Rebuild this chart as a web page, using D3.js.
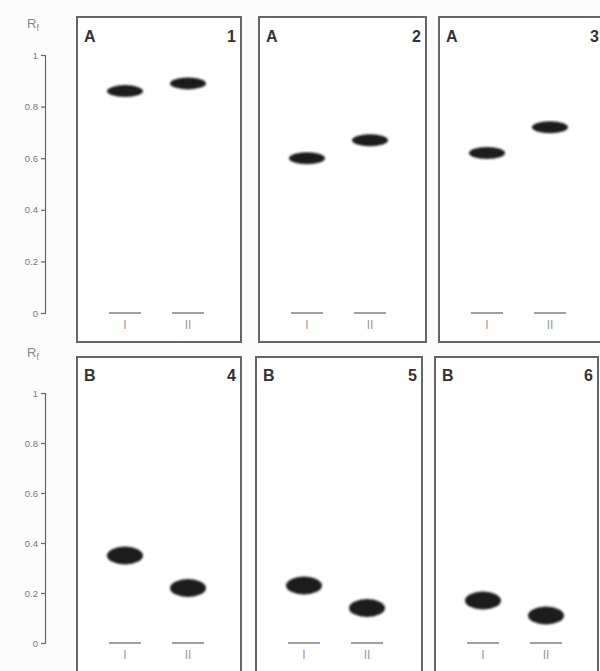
<!DOCTYPE html>
<html><head><meta charset="utf-8">
<script src="https://cdn.jsdelivr.net/npm/d3@7"></script>
<style>body{margin:0;background:#fcfcfc}svg{display:block}</style>
</head><body>
<script>
// ---- data ----
const panelIds = ["1","2","3","4","5","6"];
const rowLetters = ["A","B"];
const lanes = ["I","II"];
const rfLaneI  = [0.86, 0.60, 0.62, 0.35, 0.23, 0.17];
const rfLaneII = [0.89, 0.67, 0.72, 0.22, 0.14, 0.11];
const yTicks = [0, 0.2, 0.4, 0.6, 0.8, 1];

// ---- layout ----
const W = 600, H = 671;
const svg = d3.select("body").append("svg").attr("width", W).attr("height", H);
svg.append("rect").attr("width", W).attr("height", H).attr("fill", "#fcfcfc");
const defs = svg.append("defs");
defs.append("filter").attr("id","soft").append("feGaussianBlur").attr("stdDeviation",0.9);

const rows = [
  {y0: 313, y1: 55, boxTop: 17, boxBot: 342, letterY: 42, rfY: 28, lefts: [77,259,439], widths: [164,167,165], ry: 6},
  {y0: 643, y1: 393, boxTop: 357, boxBot: 690, letterY: 381, rfY: 357, lefts: [77,256,435], widths: [164,166,163], ry: 9}
];
const font = "'Liberation Sans', Arial, sans-serif";

rows.forEach((row, r) => {
  const y = d3.scaleLinear().domain([0,1]).range([row.y0, row.y1]);
  // axis
  const ax = svg.append("g").attr("transform","translate(45,0)")
    .call(d3.axisLeft(y).tickValues(yTicks).tickSize(4).tickPadding(3)
      .tickFormat(d => d === 0 ? "0" : d === 1 ? "1" : d3.format(".1f")(d)));
  ax.selectAll("path,line").attr("stroke","#666").attr("stroke-width",1.2);
  ax.selectAll("text").attr("fill","#777").attr("font-size",9.5).attr("font-family",font);
  // Rf label
  const rf = svg.append("text").attr("x",27).attr("y",row.rfY).attr("fill","#888")
    .attr("font-family",font).attr("font-size",13);
  rf.append("tspan").text("R");
  rf.append("tspan").attr("font-size",9).attr("dy",3).text("f");

  for (let c = 0; c < 3; c++) {
    const i = r*3 + c;
    const left = row.lefts[c], w = row.widths[c];
    const g = svg.append("g");
    g.append("rect").attr("x",left).attr("y",row.boxTop).attr("width",w)
      .attr("height",row.boxBot-row.boxTop).attr("fill","#fff")
      .attr("stroke","#666").attr("stroke-width",2);
    g.append("text").attr("x",left+7).attr("y",row.letterY).attr("fill","#333")
      .attr("font-family",font).attr("font-weight","bold").attr("font-size",16).text(rowLetters[r]);
    g.append("text").attr("x",left+w-5).attr("y",row.letterY).attr("text-anchor","end").attr("fill","#333")
      .attr("font-family",font).attr("font-weight","bold").attr("font-size",16).text(panelIds[i]);
    const x = d3.scalePoint().domain(lanes).range([left+48, left+111]);
    const vals = [rfLaneI[i], rfLaneII[i]];
    lanes.forEach((ln, k) => {
      // origin line
      g.append("line").attr("x1",x(ln)-16).attr("x2",x(ln)+16)
        .attr("y1",y(0)).attr("y2",y(0)).attr("stroke","#888").attr("stroke-width",1.6);
      g.append("text").attr("x",x(ln)).attr("y",y(0)+16).attr("text-anchor","middle")
        .attr("fill","#999").attr("font-family",font).attr("font-size",12).text(ln);
      // spot
      g.append("ellipse").attr("cx",x(ln)).attr("cy",y(vals[k]))
        .attr("rx",18).attr("ry",row.ry).attr("fill","#1a1a1c").attr("filter","url(#soft)");
    });
  }
});
</script>
</body></html>
